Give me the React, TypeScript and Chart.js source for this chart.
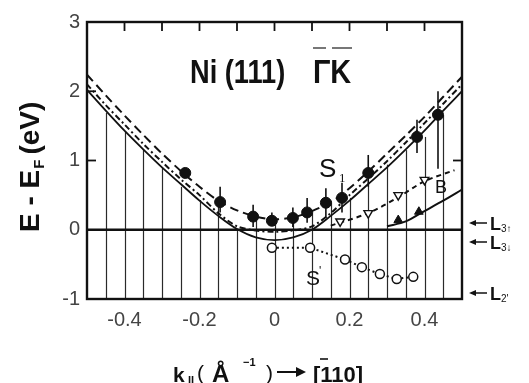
import React, { useEffect, useRef } from "react";
import { Chart, registerables } from "chart.js";
Chart.register(...registerables);

// ---- axis ticks ----
const kTicks = [-0.4, -0.2, 0, 0.2, 0.4];
const eTicks = [-1, 0, 1, 2, 3];
const topTickK = [-0.4, -0.3, -0.2, -0.1, 0, 0.1, 0.2, 0.3, 0.4];
const leftTickE = [1, 2];
const rightTickE = [1];

// ---- band curves ----
const curveK = [-0.5, -0.45, -0.4, -0.35, -0.3, -0.25, -0.2, -0.15, -0.1, -0.05, 0, 0.05, 0.1, 0.15, 0.2, 0.25, 0.3, 0.35, 0.4, 0.45, 0.5];
const upperDashedE = [2.24, 1.94, 1.65, 1.37, 1.1, 0.85, 0.62, 0.42, 0.28, 0.19, 0.15, 0.18, 0.27, 0.4, 0.6, 0.84, 1.1, 1.36, 1.63, 1.92, 2.21];
const middleDashDotE = [2.1, 1.8, 1.52, 1.24, 0.98, 0.73, 0.5, 0.24, 0.05, -0.01, -0.03, -0.01, 0.05, 0.24, 0.5, 0.74, 0.99, 1.26, 1.54, 1.82, 2.1];
const lowerSolidE = [2.02, 1.72, 1.43, 1.16, 0.9, 0.66, 0.42, 0.2, 0.01, -0.11, -0.15, -0.11, 0.0, 0.2, 0.42, 0.66, 0.9, 1.16, 1.43, 1.72, 2.0];

// B band (dashed) and lower band (solid) on the right
const bDashedK = [0.15, 0.25, 0.33, 0.4, 0.48];
const bDashedE = [0.06, 0.24, 0.47, 0.7, 0.86];
const lowBandK = [0.3, 0.35, 0.4, 0.45, 0.5];
const lowBandE = [0.05, 0.12, 0.27, 0.42, 0.58];

// ---- measured points ----
const s1K = [-0.238, -0.145, -0.057, -0.007, 0.049, 0.087, 0.137, 0.18, 0.25, 0.38, 0.436];
const s1E = [0.82, 0.4, 0.19, 0.13, 0.17, 0.25, 0.39, 0.46, 0.82, 1.34, 1.66];
const s1ErrHi = [0.82, 0.62, 0.36, 0.25, 0.32, 0.46, 0.6, 0.68, 1.08, 1.59, 2.0];
const s1ErrLo = [0.82, 0.25, 0.04, 0.06, 0.04, 0.1, 0.17, 0.25, 0.62, 1.11, 0.88];

const sPrimeK = [-0.007, 0.095, 0.188, 0.233, 0.281, 0.326, 0.37];
const sPrimeE = [-0.26, -0.26, -0.43, -0.54, -0.64, -0.71, -0.68];

const openTriK = [0.175, 0.25, 0.33, 0.4];
const openTriE = [0.12, 0.24, 0.5, 0.72];
const fillTriK = [0.33, 0.385];
const fillTriE = [0.14, 0.26];

// ---- projected bulk band hatching ----
const hatchK = [-0.45, -0.4, -0.35, -0.3, -0.25, -0.2, -0.15, -0.1, -0.05, 0, 0.05, 0.1, 0.15, 0.2, 0.25, 0.3, 0.35, 0.4, 0.45];
const hatchTopE = [1.69, 1.42, 1.16, 0.9, 0.62, 0.43, 0.4, 0.0, 0.19, 0.13, 0.17, 0.25, 0.39, 0.46, 0.66, 0.94, 1.15, 1.34, 1.66];
const hatchBottomE = -1;

const zip = (xs: number[], ys: number[]) => xs.map((x, i) => ({ x, y: ys[i] }));

const INK = "#111";
const FONT = "'Liberation Sans', Arial, sans-serif";

const decor = {
  id: "decor",
  beforeDatasetsDraw(chart: any) {
    const { ctx, chartArea: a, scales } = chart;
    const x = scales.x, y = scales.y;
    ctx.save();
    // hatch lines
    ctx.strokeStyle = "#2a2a2a";
    ctx.lineWidth = 1.2;
    hatchK.forEach((k, i) => {
      const px = Math.round(x.getPixelForValue(k)) + 0.5;
      ctx.beginPath();
      ctx.moveTo(px, y.getPixelForValue(hatchBottomE));
      ctx.lineTo(px, y.getPixelForValue(hatchTopE[i]));
      ctx.stroke();
    });
    // zero line
    ctx.strokeStyle = INK;
    ctx.lineWidth = 2.4;
    const y0 = y.getPixelForValue(0);
    ctx.beginPath();
    ctx.moveTo(a.left, y0);
    ctx.lineTo(a.right, y0);
    ctx.stroke();
    // error bars
    ctx.lineWidth = 1.6;
    s1K.forEach((k, i) => {
      if (s1ErrHi[i] === s1ErrLo[i]) return;
      const px = x.getPixelForValue(k);
      ctx.beginPath();
      ctx.moveTo(px, y.getPixelForValue(s1ErrLo[i]));
      ctx.lineTo(px, y.getPixelForValue(s1ErrHi[i]));
      ctx.stroke();
    });
    ctx.restore();
  },
  afterDraw(chart: any) {
    const { ctx, chartArea: a, scales } = chart;
    const x = scales.x, y = scales.y;
    ctx.save();
    // frame
    ctx.strokeStyle = INK;
    ctx.lineWidth = 2.4;
    ctx.strokeRect(a.left, a.top, a.right - a.left, a.bottom - a.top);
    // ticks
    ctx.lineWidth = 1.8;
    topTickK.forEach((k) => {
      const px = x.getPixelForValue(k);
      ctx.beginPath();
      ctx.moveTo(px, a.top);
      ctx.lineTo(px, a.top + 9);
      ctx.stroke();
    });
    leftTickE.forEach((e) => {
      const py = y.getPixelForValue(e);
      ctx.beginPath();
      ctx.moveTo(a.left, py);
      ctx.lineTo(a.left + 9, py);
      ctx.stroke();
    });
    rightTickE.forEach((e) => {
      const py = y.getPixelForValue(e);
      ctx.beginPath();
      ctx.moveTo(a.right, py);
      ctx.lineTo(a.right - 9, py);
      ctx.stroke();
    });

    ctx.fillStyle = INK;
    ctx.textBaseline = "alphabetic";
    ctx.textAlign = "left";

    // title: Ni(111) ΓK
    ctx.save();
    ctx.font = `bold 34px ${FONT}`;
    ctx.translate(190, 83);
    ctx.scale(0.8, 1);
    ctx.fillText("Ni (111)", 0, 0);
    ctx.restore();
    ctx.save();
    ctx.font = `bold 34px ${FONT}`;
    ctx.translate(313, 83);
    ctx.scale(0.85, 1);
    ctx.fillText("ΓK", 0, 0);
    ctx.restore();
    ctx.strokeStyle = "#777";
    ctx.lineWidth = 2;
    ctx.beginPath();
    ctx.moveTo(313, 48); ctx.lineTo(326, 48);
    ctx.moveTo(332, 48); ctx.lineTo(352, 48);
    ctx.stroke();

    // y-axis title (rotated)
    ctx.save();
    ctx.translate(39, 232);
    ctx.rotate(-Math.PI / 2);
    ctx.font = `bold 28px ${FONT}`;
    let cx = 0;
    ctx.fillText("E - E", cx, 0);
    cx += ctx.measureText("E - E").width;
    ctx.font = `bold 15px ${FONT}`;
    ctx.fillText("F", cx + 1, 5);
    cx += ctx.measureText("F").width + 6;
    ctx.font = `bold 28px ${FONT}`;
    ctx.fillText("(eV)", cx, 0);
    ctx.restore();

    // x-axis title
    ctx.font = `bold 21px ${FONT}`;
    ctx.fillText("k", 173, 382);
    ctx.font = `bold 11px ${FONT}`;
    ctx.fillText("II", 188, 384);
    ctx.font = `21px ${FONT}`;
    ctx.fillText("(", 197, 380);
    ctx.font = `bold 24px ${FONT}`;
    ctx.fillText("Å", 212, 382);
    ctx.font = `bold 11px ${FONT}`;
    ctx.fillText("−1", 243, 366);
    ctx.font = `21px ${FONT}`;
    ctx.fillText(")", 266, 380);
    ctx.strokeStyle = INK;
    ctx.lineWidth = 2;
    ctx.beginPath();
    ctx.moveTo(277, 372); ctx.lineTo(298, 372);
    ctx.stroke();
    ctx.beginPath();
    ctx.moveTo(306, 372); ctx.lineTo(296, 367); ctx.lineTo(296, 377); ctx.closePath();
    ctx.fill();
    ctx.font = `bold 22px ${FONT}`;
    ctx.fillText("[110]", 313, 382);
    ctx.lineWidth = 1.6;
    ctx.beginPath();
    ctx.moveTo(320, 359); ctx.lineTo(328, 359);
    ctx.stroke();

    // curve labels
    ctx.font = `26px ${FONT}`;
    ctx.fillText("S", 319, 177);
    ctx.font = `13px 'Liberation Serif', serif`;
    ctx.fillText("1", 339, 182);
    ctx.font = `21px ${FONT}`;
    ctx.fillText("S", 306, 285);
    ctx.font = `12px ${FONT}`;
    ctx.fillText("'", 319, 275);
    ctx.font = `18px ${FONT}`;
    ctx.fillText("B", 435, 193);

    // right-side labels with arrows
    const rightLabels: [number, string][] = [[223, "3↑"], [242, "3↓"], [293, "2'"]];
    rightLabels.forEach(([py, sub]) => {
      ctx.strokeStyle = INK;
      ctx.lineWidth = 1.5;
      ctx.beginPath();
      ctx.moveTo(475, py); ctx.lineTo(487, py);
      ctx.stroke();
      ctx.beginPath();
      ctx.moveTo(469, py); ctx.lineTo(476, py - 3); ctx.lineTo(476, py + 3); ctx.closePath();
      ctx.fill();
      ctx.font = `bold 18px ${FONT}`;
      ctx.fillText("L", 490, py + 7);
      ctx.font = `10px ${FONT}`;
      ctx.fillText(sub, 501, py + 9);
    });
    ctx.restore();
  },
};

export default function App() {
  const ref = useRef<HTMLCanvasElement>(null);
  useEffect(() => {
    document.body.style.margin = "0";
    const canvas = ref.current;
    if (!canvas) return;
    const chart = new Chart(canvas, {
      type: "line",
      data: {
        datasets: [
          {
            label: "S1 filled",
            data: zip(s1K, s1E),
            showLine: false,
            pointRadius: 5.5,
            pointBackgroundColor: INK,
            pointBorderColor: INK,
            pointBorderWidth: 1,
          },
          {
            label: "S'",
            data: zip(sPrimeK, sPrimeE),
            showLine: true,
            borderColor: INK,
            borderWidth: 2,
            borderDash: [2, 3],
            pointRadius: 4.5,
            pointBackgroundColor: "#fff",
            pointBorderColor: INK,
            pointBorderWidth: 1.5,
          },
          {
            label: "open triangles",
            data: zip(openTriK, openTriE),
            showLine: false,
            pointStyle: "triangle",
            rotation: 180,
            pointRadius: 5,
            pointBackgroundColor: "#fff",
            pointBorderColor: INK,
            pointBorderWidth: 1.4,
          },
          {
            label: "filled triangles",
            data: zip(fillTriK, fillTriE),
            showLine: false,
            pointStyle: "triangle",
            pointRadius: 5,
            pointBackgroundColor: INK,
            pointBorderColor: INK,
          },
          {
            label: "upper dashed",
            data: zip(curveK, upperDashedE),
            borderColor: INK,
            borderWidth: 2,
            borderDash: [9, 5],
            pointRadius: 0,
            tension: 0.3,
          },
          {
            label: "middle dash-dot",
            data: zip(curveK, middleDashDotE),
            borderColor: INK,
            borderWidth: 2,
            borderDash: [6, 3, 2, 3],
            pointRadius: 0,
            tension: 0.3,
          },
          {
            label: "lower solid",
            data: zip(curveK, lowerSolidE),
            borderColor: INK,
            borderWidth: 1.8,
            pointRadius: 0,
            tension: 0.3,
          },
          {
            label: "B dashed",
            data: zip(bDashedK, bDashedE),
            borderColor: INK,
            borderWidth: 2,
            borderDash: [5, 4],
            pointRadius: 0,
            tension: 0.3,
          },
          {
            label: "low band",
            data: zip(lowBandK, lowBandE),
            borderColor: INK,
            borderWidth: 2,
            pointRadius: 0,
            tension: 0.3,
          },
        ],
      },
      options: {
        responsive: false,
        animation: false,
        events: [],
        layout: { padding: { left: 0, right: 67, top: 22, bottom: 0 } },
        plugins: {
          legend: { display: false },
          tooltip: { enabled: false },
        },
        scales: {
          x: {
            type: "linear",
            min: -0.5,
            max: 0.5,
            afterBuildTicks: (s: any) => {
              s.ticks = kTicks.map((v) => ({ value: v }));
            },
            afterFit: (s: any) => {
              s.height = 84;
            },
            grid: { display: false, drawTicks: false },
            border: { display: false },
            ticks: {
              padding: 9,
              color: "#444",
              font: { family: FONT, size: 20 },
              callback: (v: any) => (v === 0 ? "0" : Number(v).toFixed(1)),
              maxRotation: 0,
            },
          },
          y: {
            type: "linear",
            min: -1,
            max: 3,
            afterBuildTicks: (s: any) => {
              s.ticks = eTicks.map((v) => ({ value: v }));
            },
            afterFit: (s: any) => {
              s.width = 87;
            },
            grid: { display: false, drawTicks: false },
            border: { display: false },
            ticks: {
              padding: 7,
              color: "#444",
              font: { family: FONT, size: 20 },
              callback: (v: any) => String(v),
            },
          },
        },
      },
      plugins: [decor],
    });
    return () => chart.destroy();
  }, []);
  return (
    <div style={{ position: "absolute", left: 0, top: 0, width: 529, height: 383 }}>
      <canvas ref={ref} width={529} height={383} style={{ display: "block", width: 529, height: 383 }} />
    </div>
  );
}
